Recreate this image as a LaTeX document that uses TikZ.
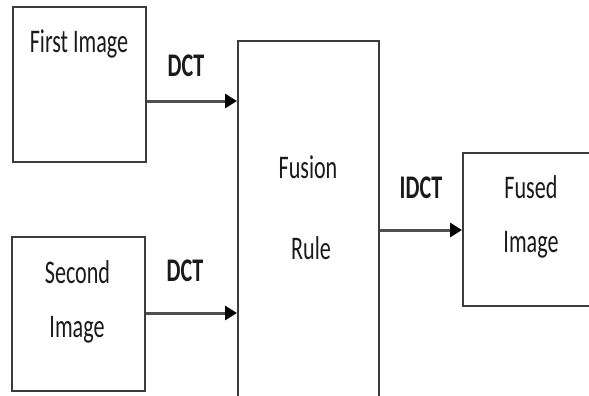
\documentclass[tikz,border=0pt]{standalone}
\usepackage{fontspec}
\setmainfont[FakeStretch=0.67]{Carlito}
\usetikzlibrary{arrows.meta}
\definecolor{boxline}{HTML}{3C3C3C}
\definecolor{arrline}{HTML}{505050}
\definecolor{txt}{HTML}{1A1A1A}
\tikzset{
  blockbox/.style={draw=boxline, line width=2pt, rectangle, inner sep=0pt},
  lbl/.style={anchor=base, inner sep=0pt, text=txt, font=\fontsize{33}{40}\selectfont},
  blbl/.style={lbl, font=\fontsize{33}{40}\selectfont\bfseries},
  arr/.style={draw=arrline, line width=3pt, -{Triangle[length=12pt,width=14pt,color=black]}}
}
\begin{document}
\begin{tikzpicture}[x=1pt,y=-1pt]
\useasboundingbox (0,0) rectangle (589,396);
\node[blockbox, minimum width=133pt, minimum height=155pt] (first) at (79.5,84.5) {};
\node[blockbox, minimum width=133pt, minimum height=154pt] (second) at (78.5,314) {};
\node[blockbox, minimum width=141pt, minimum height=358pt] (fusion) at (308.5,220) {};
\node[blockbox, minimum width=137pt, minimum height=153pt] (fused) at (531.5,229.5) {};

\node[lbl] (t1) at (79,53) {First Image};
\node[lbl] (t2a) at (77.5,283) {Second};
\node[lbl] (t2b) at (77,337) {Image};
\node[lbl] (t3a) at (308,178) {Fusion};
\node[lbl] (t3b) at (311,259) {Rule};
\node[lbl] (t4a) at (531,198) {Fused};
\node[lbl] (t4b) at (531,252) {Image};

\node[blbl] (d1) at (186,77) {DCT};
\node[blbl] (d2) at (185,281) {DCT};
\node[blbl] (d3) at (421,198) {IDCT};

\draw[arr] (first.east |- 0,101) -- (fusion.west |- 0,101);
\draw[arr] (second.east |- 0,313) -- (fusion.west |- 0,313);
\draw[arr] (fusion.east |- 0,230) -- (fused.west |- 0,230);
\end{tikzpicture}
\end{document}
